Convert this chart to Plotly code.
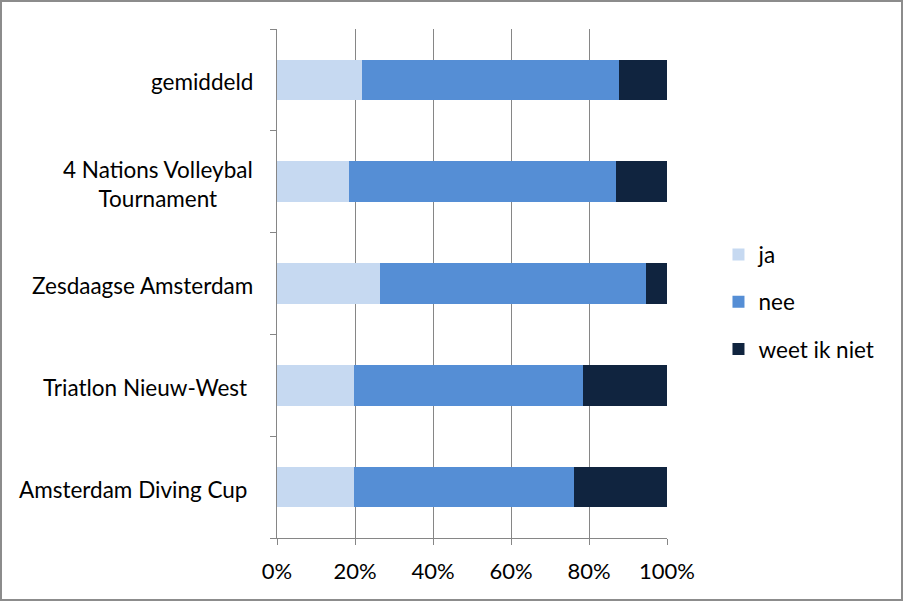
import plotly.graph_objects as go

# categorieën (van boven naar beneden)
categorieen = ['gemiddeld', '4 Nations Volleybal<br>Tournament', 'Zesdaagse Amsterdam',
               'Triatlon Nieuw-West\u00a0', 'Amsterdam Diving Cup\u00a0']

# aandelen in procenten
ja = [21.7, 18.5, 26.3, 19.7, 19.7]
nee = [66.0, 68.4, 68.3, 58.8, 56.5]
weet_ik_niet = [12.3, 13.1, 5.4, 21.5, 23.8]

x_ticks = [0, 20, 40, 60, 80, 100]
x_tick_labels = ['0%', '20%', '40%', '60%', '80%', '100%']

reeksen = [
    ('ja', ja, '#C6D9F1'),
    ('nee', nee, '#558ED5'),
    ('weet ik niet', weet_ik_niet, '#10243F'),
]

fig = go.Figure()
for naam, waarden, kleur in reeksen:
    fig.add_trace(go.Bar(
        y=categorieen,
        x=waarden,
        name=naam,
        orientation='h',
        marker=dict(color=kleur, line=dict(width=0)),
        width=0.4,
        legendgroup=naam,
    ))

# labels van de categorieën als annotaties (gecentreerd bij twee regels)
for cat in categorieen:
    fig.add_annotation(
        x=0, xref='paper', y=cat, yref='y',
        text=cat, showarrow=False,
        xanchor='right', yanchor='middle', xshift=-22, yshift=-2,
        align='center',
        font=dict(family='Lato', size=22.5, color='black'),
    )

# rand rond de hele figuur
fig.add_shape(type='rect', xref='paper', yref='paper',
              x0=(1 - 277) / 390, x1=(902 - 277) / 390,
              y0=(538 - 600) / 509, y1=(538 - 1) / 509,
              line=dict(color='#8C8C8C', width=2))

fig.update_layout(
    width=903, height=601,
    margin=dict(l=277, r=236, t=29, b=63),
    barmode='stack',
    paper_bgcolor='white',
    plot_bgcolor='white',
    font=dict(family='Lato', size=22, color='black'),
    showlegend=True,
    legend=dict(
        x=1.132, y=0.464, xanchor='left', yanchor='middle',
        traceorder='grouped',
        tracegroupgap=15,
        font=dict(family='Lato', size=22.5, color='black'),
        itemwidth=30,
    ),
    xaxis=dict(
        range=[0, 100],
        tickvals=x_ticks,
        ticktext=x_tick_labels,
        showgrid=True, gridcolor='#868686', gridwidth=1,
        showline=True, linecolor='#868686', linewidth=1,
        ticks='outside', ticklen=6, tickcolor='#868686',
        ticklabelstandoff=8,
        zeroline=False,
        fixedrange=True,
    ),
    yaxis=dict(
        categoryorder='array',
        categoryarray=categorieen[::-1],
        showticklabels=False,
        showline=True, linecolor='#868686', linewidth=1,
        ticks='outside', ticklen=6, tickcolor='#868686',
        tickson='boundaries',
        showgrid=False,
        fixedrange=True,
    ),
    bargap=0.6,
)

# geen standaardmarge van de pagina, zodat de figuur het venster vult
fig.write_html('out.html', config={'displayModeBar': False},
               post_script="document.body.style.margin='0';")
